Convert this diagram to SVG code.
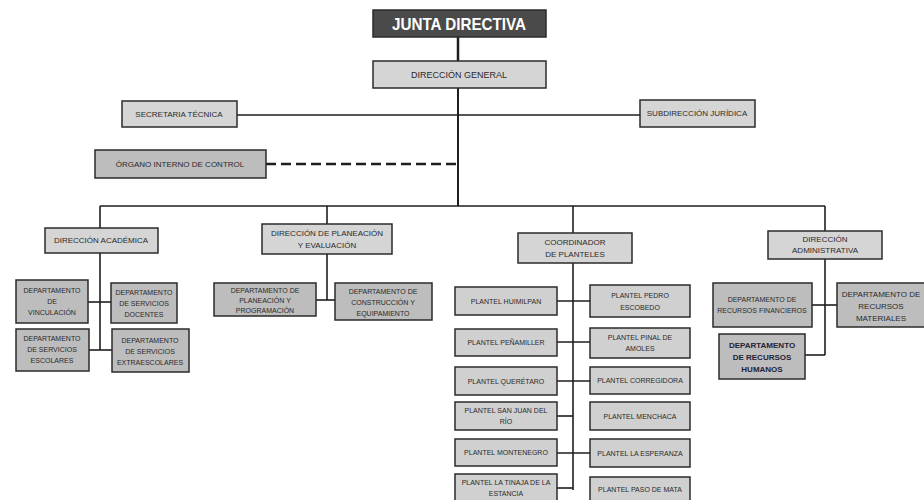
<svg xmlns="http://www.w3.org/2000/svg" width="924" height="500" viewBox="0 0 924 500">
<style>
.b{stroke:#2b2b2b;stroke-width:1.5}
.d{fill:#d5d5d5}
.p{fill:#bdbdbd}
.q{fill:#d0d0d0}
text{font-family:"Liberation Sans Narrow","Liberation Sans",Arial,sans-serif;fill:#2a2a2a;text-anchor:middle;font-size:7px}
.t9{font-size:9px}
.t8{font-size:8px}
.hd{font-family:"Liberation Sans Narrow","Liberation Sans",Arial,sans-serif;font-weight:bold;fill:#ffffff;font-size:17px}
.c line{stroke:#1e1e1e;stroke-width:1.6}
</style>
<rect width="924" height="500" fill="#ffffff"/>
<g class="c" id="connectors">
<line x1="458" y1="37" x2="458" y2="61" style="stroke-width:2.5"/>
<line x1="458" y1="88" x2="458" y2="206" style="stroke-width:2"/>
<line x1="237" y1="115" x2="640" y2="115"/>
<line x1="266" y1="164" x2="458" y2="164" style="stroke-width:2.5;stroke-dasharray:10 5"/>
<line x1="100" y1="206" x2="825" y2="206"/>
<line x1="100" y1="206" x2="100" y2="228"/>
<line x1="327" y1="206" x2="327" y2="224"/>
<line x1="573" y1="206" x2="573" y2="233"/>
<line x1="825" y1="206" x2="825" y2="231"/>
<line x1="100" y1="253" x2="100" y2="350"/>
<line x1="88" y1="302" x2="111" y2="302"/>
<line x1="89" y1="350" x2="112" y2="350"/>
<line x1="327" y1="254" x2="327" y2="300"/>
<line x1="316" y1="300" x2="335" y2="300"/>
<line x1="573" y1="263" x2="573" y2="490"/>
<line x1="557" y1="301" x2="590" y2="301"/>
<line x1="557" y1="342" x2="590" y2="342"/>
<line x1="557" y1="381" x2="590" y2="381"/>
<line x1="557" y1="416" x2="573" y2="416"/>
<line x1="557" y1="453" x2="590" y2="453"/>
<line x1="557" y1="488" x2="573" y2="488"/>
<line x1="825" y1="259" x2="825" y2="355"/>
<line x1="812" y1="305" x2="837" y2="305"/>
<line x1="805" y1="355" x2="825" y2="355"/>
</g>
<g id="junta"><rect x="373" y="10" width="173" height="27" fill="#4a4a4a" class="b"/><text x="459" y="30" class="hd" textLength="134" lengthAdjust="spacingAndGlyphs">JUNTA DIRECTIVA</text></g>
<g id="general"><rect x="373" y="61" width="173" height="27" class="b d"/><text x="459" y="78" class="t9">DIRECCIÓN GENERAL</text></g>
<g id="secretaria"><rect x="122" y="101" width="115" height="26" class="b d"/><text x="179" y="117" class="t8">SECRETARIA TÉCNICA</text></g>
<g id="subdireccion"><rect x="640" y="100" width="115" height="27" class="b d"/><text x="697" y="116" class="t8">SUBDIRECCIÓN JURÍDICA</text></g>
<g id="organo"><rect x="95" y="150" width="171" height="28" class="b p"/><text x="180" y="167" class="t8">ÓRGANO INTERNO DE CONTROL</text></g>
<g id="academica"><rect x="45" y="228" width="113" height="25" class="b d"/><text x="101" y="243" class="t8">DIRECCIÓN ACADÉMICA</text></g>
<g id="planeacion"><rect x="262" y="224" width="130" height="30" class="b d"/><text x="327" y="236" class="t8">DIRECCIÓN DE PLANEACIÓN</text><text x="327" y="248" class="t8">Y EVALUACIÓN</text></g>
<g id="coordinador"><rect x="518" y="233" width="114" height="30" class="b d"/><text x="575" y="245" class="t8">COORDINADOR</text><text x="575" y="257" class="t8">DE PLANTELES</text></g>
<g id="administrativa"><rect x="768" y="231" width="114" height="28" class="b d"/><text x="825" y="242" class="t8">DIRECCIÓN</text><text x="825" y="253" class="t8">ADMINISTRATIVA</text></g>
<g id="vinculacion"><rect x="16" y="280" width="72" height="43" class="b p"/><text x="52" y="293">DEPARTAMENTO</text><text x="52" y="304">DE</text><text x="52" y="315">VINCULACIÓN</text></g>
<g id="docentes"><rect x="111" y="283" width="66" height="40" class="b p"/><text x="144" y="295">DEPARTAMENTO</text><text x="144" y="306">DE SERVICIOS</text><text x="144" y="317">DOCENTES</text></g>
<g id="escolares"><rect x="16" y="329" width="73" height="42" class="b p"/><text x="52" y="341">DEPARTAMENTO</text><text x="52" y="352">DE SERVICIOS</text><text x="52" y="363">ESCOLARES</text></g>
<g id="extraescolares"><rect x="112" y="329" width="77" height="43" class="b p"/><text x="150" y="343">DEPARTAMENTO</text><text x="150" y="354">DE SERVICIOS</text><text x="150" y="365">EXTRAESCOLARES</text></g>
<g id="planprog"><rect x="214" y="283" width="102" height="33" class="b p"/><text x="265" y="293">DEPARTAMENTO DE</text><text x="265" y="303">PLANEACIÓN Y</text><text x="265" y="313">PROGRAMACIÓN</text></g>
<g id="construccion"><rect x="335" y="283" width="97" height="37" class="b p"/><text x="383" y="294">DEPARTAMENTO DE</text><text x="383" y="305">CONSTRUCCIÓN Y</text><text x="383" y="316">EQUIPAMIENTO</text></g>
<g id="financieros"><rect x="713" y="283" width="99" height="44" class="b p"/><text x="762" y="302">DEPARTAMENTO DE</text><text x="762" y="313">RECURSOS FINANCIEROS</text></g>
<g id="materiales"><rect x="837" y="283" width="90" height="44" class="b p"/><text x="881" y="297" class="t8">DEPARTAMENTO DE</text><text x="881" y="309" class="t8">RECURSOS</text><text x="881" y="321" class="t8">MATERIALES</text></g>
<g id="humanos"><rect x="719" y="334" width="86" height="45" class="b p"/><text x="762" y="348" class="t8" style="font-weight:bold;fill:#232338">DEPARTAMENTO</text><text x="762" y="360" class="t8" style="font-weight:bold;fill:#232338">DE RECURSOS</text><text x="762" y="372" class="t8" style="font-weight:bold;fill:#232338">HUMANOS</text></g>
<g id="huimilpan"><rect x="455" y="287" width="102" height="28" class="b q"/><text x="506" y="304">PLANTEL HUIMILPAN</text></g>
<g id="escobedo"><rect x="590" y="285" width="100" height="32" class="b q"/><text x="640" y="298">PLANTEL PEDRO</text><text x="640" y="310">ESCOBEDO</text></g>
<g id="penamiller"><rect x="455" y="329" width="102" height="27" class="b q"/><text x="506" y="345">PLANTEL PEÑAMILLER</text></g>
<g id="pinal"><rect x="590" y="328" width="100" height="30" class="b q"/><text x="640" y="340">PLANTEL PINAL DE</text><text x="640" y="351">AMOLES</text></g>
<g id="queretaro"><rect x="455" y="367" width="102" height="28" class="b q"/><text x="506" y="384">PLANTEL QUERÉTARO</text></g>
<g id="corregidora"><rect x="590" y="367" width="100" height="27" class="b q"/><text x="640" y="383">PLANTEL CORREGIDORA</text></g>
<g id="sanjuan"><rect x="455" y="402" width="102" height="28" class="b q"/><text x="506" y="413">PLANTEL SAN JUAN DEL</text><text x="506" y="424">RÍO</text></g>
<g id="menchaca"><rect x="590" y="402" width="100" height="28" class="b q"/><text x="640" y="419">PLANTEL MENCHACA</text></g>
<g id="montenegro"><rect x="455" y="439" width="102" height="27" class="b q"/><text x="506" y="455">PLANTEL MONTENEGRO</text></g>
<g id="esperanza"><rect x="590" y="439" width="100" height="28" class="b q"/><text x="640" y="456">PLANTEL LA ESPERANZA</text></g>
<g id="tinaja"><rect x="455" y="474" width="102" height="27" class="b q"/><text x="506" y="485">PLANTEL LA TINAJA DE LA</text><text x="506" y="496">ESTANCIA</text></g>
<g id="pasomata"><rect x="590" y="477" width="100" height="24" class="b q"/><text x="640" y="492">PLANTEL PASO DE MATA</text></g>
</svg>
